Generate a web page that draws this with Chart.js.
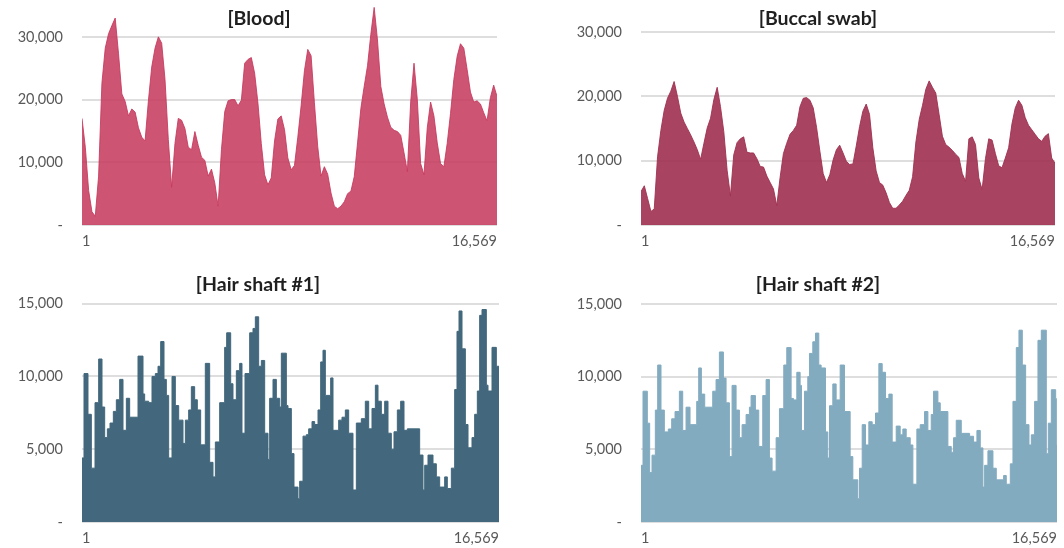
<!DOCTYPE html>
<html>
<head>
<meta charset="utf-8">
<script src="https://cdn.jsdelivr.net/npm/chart.js@4.4.1/dist/chart.umd.min.js"></script>
<style>
  html, body { margin: 0; padding: 0; background: #fff; }
  #wrap { position: relative; width: 1064px; height: 548px; overflow: hidden; }
  canvas { position: absolute; }
</style>
</head>
<body>
<div id="wrap">
  <canvas id="blood" width="520" height="250" style="left:0;top:0"></canvas>
  <canvas id="buccal" width="524" height="250" style="left:540px;top:0"></canvas>
  <canvas id="hair1" width="520" height="278" style="left:0;top:270px"></canvas>
  <canvas id="hair2" width="524" height="278" style="left:540px;top:270px"></canvas>
</div>
<script>
// mtDNA read depth, positions 1..16,569
const genomeTicks = [1, 16569];

// blood / buccal: depth sampled at 126 evenly spaced positions
const bloodDepth = [
  17000, 12400, 5500, 2100, 1400, 7800, 22600, 28200, 30500, 31800,
  33000, 27300, 20900, 19700, 17400, 18500, 18000, 15500, 14000, 13400,
  19800, 25200, 28200, 30000, 29000, 23200, 13600, 6000, 13000, 17000,
  16700, 15400, 12400, 12000, 14900, 12700, 10800, 10300, 7800, 8900,
  6700, 3000, 12000, 18100, 19800, 20000, 20000, 19000, 19900, 25800,
  26400, 26700, 24200, 19400, 13000, 8000, 6400, 7500, 13400, 16900,
  17400, 15200, 10700, 8800, 9500, 14000, 19000, 24600, 28000, 27000,
  19500, 12500, 7800, 9300, 8100, 5100, 3000, 2600, 3000, 3700,
  5000, 5400, 7700, 13100, 18600, 22100, 25400, 30400, 34700, 29500,
  22100, 19300, 17200, 15600, 15100, 14900, 14300, 11500, 8500, 19600,
  25800, 20000, 9800, 8000, 15500, 19600, 17400, 13100, 9800, 9300,
  13000, 17800, 23200, 26900, 28900, 28200, 24800, 21200, 19600, 19800,
  19300, 17900, 16600, 20300, 22300, 20500
];
const buccalDepth = [
  5200, 6100, 4100, 2100, 2500, 10600, 14700, 17800, 19700, 20800,
  22300, 20000, 17400, 16000, 15000, 14000, 12900, 11700, 10200, 12700,
  15100, 16600, 19500, 21400, 18400, 14500, 8500, 4500, 10900, 12800,
  13400, 13700, 11300, 11200, 11200, 10300, 9100, 9000, 7600, 6600,
  5600, 3000, 7400, 11100, 12700, 14100, 14700, 15500, 18400, 19700,
  19800, 19400, 18200, 15200, 11500, 8000, 6600, 7800, 10100, 11700,
  12400, 11200, 9900, 9400, 9500, 12300, 15300, 17700, 18800, 17200,
  12000, 8400, 6600, 6200, 5000, 3500, 2600, 2600, 3100, 3700,
  4600, 5400, 7500, 12900, 16400, 18600, 21100, 22400, 21400, 20500,
  17200, 13800, 12500, 12100, 11600, 11000, 10500, 8000, 6800, 13400,
  13700, 12500, 7300, 5500, 10300, 13400, 13200, 11100, 9200, 8900,
  10400, 12000, 15700, 18200, 19400, 18600, 16700, 15500, 14800, 14100,
  13400, 13000, 13800, 14200, 10400, 9600
];

// hair shafts: stepwise depth, each value holds from its position to the next
const hair1Pos = [
  1, 80, 239, 372, 518, 663, 796, 902, 1008, 1114,
  1246, 1365, 1498, 1630, 1763, 1895, 2226, 2425, 2491, 2650,
  2782, 2915, 3021, 3127, 3259, 3352, 3444, 3577, 3709, 3842,
  4014, 4107, 4239, 4345, 4477, 4583, 4716, 4901, 5073, 5206,
  5299, 5471, 5669, 5749, 5908, 6000, 6133, 6265, 6358, 6477,
  6663, 6795, 6888, 7020, 7126, 7259, 7391, 7457, 7590, 7722,
  7855, 7921, 8120, 8186, 8318, 8424, 8583, 8649, 8782, 8914,
  9007, 9139, 9245, 9378, 9484, 9576, 9669, 9881, 9974, 10199,
  10331, 10464, 10596, 10768, 10901, 11099, 11258, 11391, 11523, 11656,
  11762, 11894, 12027, 12159, 12291, 12397, 12530, 12662, 12795, 12927,
  13417, 13550, 13616, 13748, 13947, 14079, 14212, 14410, 14516, 14675,
  14808, 14900, 14980, 15099, 15232, 15338, 15496, 15602, 15708, 15801,
  15894, 16066, 16132, 16291, 16463, 16569
];
const hair1Depth = [
  4400, 10200, 7400, 3700, 8200, 11200, 7900, 5800, 6400, 6800,
  7600, 8400, 9800, 6300, 8500, 7200, 11400, 8800, 8300, 8200,
  10000, 10200, 10700, 12400, 9800, 8700, 4400, 10000, 8000, 7000,
  5400, 7000, 7700, 9300, 8400, 7700, 5300, 10900, 4100, 3100,
  5500, 8200, 12000, 13000, 9500, 8400, 10400, 10900, 6100, 10200,
  13000, 13300, 14100, 10700, 11100, 6100, 4300, 8500, 9800, 8500,
  7900, 11600, 8000, 7800, 4700, 2400, 1600, 2800, 5900, 6000,
  6400, 6900, 6700, 7700, 11000, 11800, 8700, 9900, 6300, 7000,
  7200, 7700, 6100, 2200, 6800, 7100, 8300, 6400, 7800, 9400,
  8300, 7400, 8300, 6100, 5000, 6200, 7700, 8300, 6300, 6400,
  4600, 2200, 3900, 4600, 4000, 3100, 2400, 3100, 2300, 3700,
  9100, 13100, 14500, 11900, 6700, 5100, 5800, 7400, 9000, 14200,
  14600, 9400, 9000, 12000, 10700, 10700
];
const hair2Pos = [
  1, 81, 253, 346, 439, 572, 665, 798, 931, 1090,
  1223, 1356, 1529, 1662, 1795, 1954, 2220, 2299, 2406, 2539,
  2857, 2990, 3123, 3283, 3389, 3522, 3628, 3788, 3920, 4027,
  4186, 4319, 4385, 4558, 4691, 4850, 4983, 5116, 5222, 5382,
  5515, 5687, 5807, 5980, 6073, 6206, 6338, 6392, 6511, 6644,
  6710, 6843, 6950, 7082, 7175, 7348, 7441, 7508, 7640, 7773,
  7933, 8105, 8331, 8438, 8637, 8703, 8810, 8942, 9075, 9208,
  9341, 9474, 9607, 9740, 9872, 10005, 10165, 10324, 10430, 10563,
  10723, 10829, 10988, 11121, 11294, 11427, 11560, 11653, 11826, 11919,
  12224, 12357, 12450, 12556, 12756, 13088, 13247, 13380, 13513, 13619,
  13686, 13818, 14018, 14151, 14443, 14549, 14709, 14815, 14948, 15054,
  15187, 15320, 15453, 15546, 15678, 15811, 15944, 16143, 16223, 16343,
  16516, 16542, 16569
];
const hair2Depth = [
  3900, 9000, 6800, 3400, 4600, 7700, 10800, 7700, 6200, 6400,
  7100, 7600, 9000, 6300, 7900, 6700, 8300, 10600, 8800, 7900,
  9000, 9800, 11700, 9900, 8200, 4500, 9400, 7700, 5800, 6700,
  7400, 7900, 8700, 7700, 5200, 8700, 9800, 4400, 3500, 5800,
  7800, 10800, 12000, 8500, 8400, 10300, 9400, 6300, 9000, 10000,
  11600, 12400, 13000, 10800, 10600, 6200, 4400, 8000, 9500, 8400,
  10800, 7600, 4500, 2900, 1600, 3700, 6700, 5300, 6900, 6700,
  7500, 10900, 10300, 8500, 8800, 5500, 6600, 6000, 6400, 5800,
  5300, 2600, 6400, 6700, 7600, 6300, 7400, 9000, 8200, 7600,
  5200, 4800, 5800, 7000, 6100, 5900, 5500, 6300, 5100, 2400,
  3900, 4900, 3700, 2900, 3200, 2600, 4000, 8300, 12000, 13200,
  10800, 6700, 5300, 6000, 8300, 12500, 13200, 4700, 6800, 9100,
  8500, 5300, 5300
];

const bloodTicks = [0, 10000, 20000, 30000];
const buccalTicks = [0, 10000, 20000, 30000];
const hairTicks = [0, 5000, 10000, 15000];

Chart.defaults.font.family = 'Lato, "Open Sans", sans-serif';
Chart.defaults.color = '#595959';

// title drawn over the plot, like the spreadsheet original
const panelTitle = {
  id: 'panelTitle',
  afterDraw(chart, args, opts) {
    let ctx = chart.ctx;
    ctx.save();
    ctx.font = 'bold 19.5px Lato';
    ctx.fillStyle = '#1f1f1f';
    ctx.textAlign = 'center';
    ctx.textBaseline = 'alphabetic';
    ctx.fillText(opts.text, opts.x, opts.y);
    ctx.restore();
  }
};

function withCommas(v) {
  return String(v).replace(/\B(?=(\d{3})+(?!\d))/g, ',');
}

function evenPositions(n) {
  let out = [];
  for (let i = 0; i < n; i++) {
    out.push(1 + i * (genomeTicks[1] - genomeTicks[0]) / (n - 1));
  }
  return out;
}

function toPoints(xs, ys) {
  return ys.map((v, i) => ({ x: xs[i], y: v }));
}

function makePanel(id, p) {
  return new Chart(document.getElementById(id), {
    type: 'line',
    data: {
      datasets: [{
        data: p.points,
        backgroundColor: p.fill,
        borderColor: p.line,
        borderWidth: 1,
        pointRadius: 0,
        fill: 'origin',
        tension: 0,
        stepped: p.stepped || false
      }]
    },
    plugins: [panelTitle],
    options: {
      responsive: false,
      animation: false,
      devicePixelRatio: 1,
      layout: { padding: { left: 0, right: p.padRight, top: p.padTop, bottom: 0 } },
      plugins: {
        legend: { display: false },
        tooltip: { enabled: false },
        panelTitle: { text: p.title, x: p.titleX, y: p.titleY }
      },
      scales: {
        x: {
          type: 'linear',
          min: genomeTicks[0],
          max: genomeTicks[1],
          afterBuildTicks: (scale) => { scale.ticks = genomeTicks.map(v => ({ value: v })); },
          afterFit: (scale) => {
            scale.height = p.xHeight;
            scale.paddingLeft = 0;
            scale.paddingRight = 0;
          },
          grid: { display: false },
          border: { display: false },
          ticks: {
            autoSkip: false,
            maxRotation: 0,
            align: 'inner',
            padding: 0,
            font: { size: 14.5 },
            callback: (v) => withCommas(v)
          }
        },
        y: {
          min: 0,
          max: p.yMax,
          afterBuildTicks: (scale) => { scale.ticks = p.yTicks.map(v => ({ value: v })); },
          afterFit: (scale) => {
            scale.width = p.yWidth;
            scale.paddingTop = 0;
            scale.paddingBottom = 0;
          },
          grid: { color: '#dedede', lineWidth: 2, drawTicks: false },
          border: { display: false },
          ticks: {
            padding: 19,
            font: { size: 14.5 },
            callback: (v) => v === 0 ? '-' : withCommas(v)
          }
        }
      }
    }
  });
}

let evenX = evenPositions(bloodDepth.length);

makePanel('blood', {
  title: '[Blood]', titleX: 259, titleY: 25,
  points: toPoints(evenX, bloodDepth),
  fill: 'rgba(198, 56, 92, 0.86)', line: 'rgba(198, 56, 92, 0.86)',
  yMax: 35000, yTicks: bloodTicks,
  yWidth: 82, padRight: 23, padTop: 5.5, xHeight: 25
});

makePanel('buccal', {
  title: '[Buccal swab]', titleX: 818 - 540, titleY: 25,
  points: toPoints(evenX, buccalDepth),
  fill: 'rgba(158, 48, 80, 0.9)', line: 'rgba(158, 48, 80, 0.9)',
  yMax: 30000, yTicks: buccalTicks,
  yWidth: 101, padRight: 9, padTop: 32, xHeight: 25
});

makePanel('hair1', {
  title: '[Hair shaft #1]', titleX: 258, titleY: 21,
  points: toPoints(hair1Pos, hair1Depth), stepped: 'before',
  fill: '#43687d', line: '#43687d',
  yMax: 15000, yTicks: hairTicks,
  yWidth: 82, padRight: 21, padTop: 33.7, xHeight: 26
});

makePanel('hair2', {
  title: '[Hair shaft #2]', titleX: 818 - 540, titleY: 21,
  points: toPoints(hair2Pos, hair2Depth), stepped: 'before',
  fill: '#83abc0', line: '#83abc0',
  yMax: 15000, yTicks: hairTicks,
  yWidth: 101, padRight: 7, padTop: 34, xHeight: 26
});
</script>
</body>
</html>
